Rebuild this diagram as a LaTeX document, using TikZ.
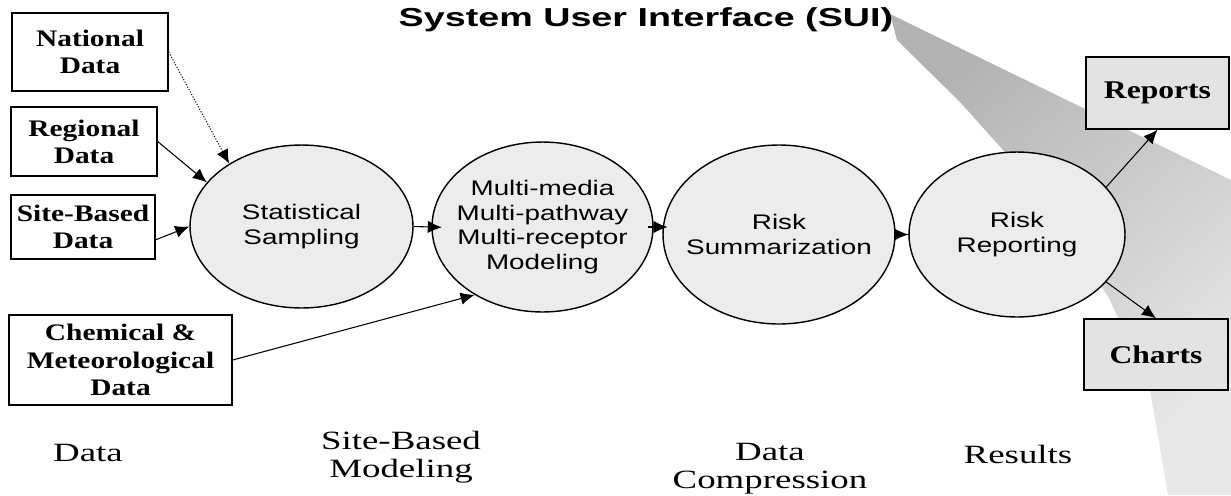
\documentclass[tikz,border=0pt]{standalone}
\usepackage{fontspec}
\setmainfont{Liberation Serif}
\newfontfamily\boxfont[FakeStretch=1.24]{Liberation Serif}
\newfontfamily\stagefont[FakeStretch=1.4]{Liberation Serif}
\newfontfamily\blobfont[FakeStretch=1.32]{Liberation Sans}
\newfontfamily\titlefont[FakeStretch=1.45]{Liberation Sans}
\usetikzlibrary{shapes.geometric,arrows.meta}

\begin{document}
\begin{tikzpicture}[x=0.02cm,y=-0.02cm,
  source/.style={draw,thick,fill=white,inner sep=0pt,align=center,font=\boxfont\bfseries\fontsize{13.5}{15.5}\selectfont},
  output/.style={source,fill=gray!22,font=\boxfont\bfseries\fontsize{14.5}{16}\selectfont},
  blob/.style={ellipse,draw,thick,fill=gray!15,inner xsep=-25pt,inner ysep=-10pt,align=center,font=\blobfont\fontsize{12}{14}\selectfont},
  stage/.style={align=center,font=\stagefont\fontsize{15}{16}\selectfont},
  link/.style={-{Latex[length=8pt,width=7pt]},semithick}]
\useasboundingbox (0,0) rectangle (1231,495);
  % Draw the beam from the title
  \shade[top color=gray!60,bottom color=gray!18,shading angle=39]
    (890,14) -- (1231,180) -- (1231,495) -- (1168,495) -- (1150,390) -- (1110,300)
    -- (1040,190) -- (1003,150) -- (960,102) -- (897,40) -- cycle;
  \node[font=\titlefont\bfseries\fontsize{14.8}{16}\selectfont,anchor=base] (title) at (646,26) {System User Interface (SUI)};
  % Draw data boxes
  \node[source,minimum width=3.12cm,minimum height=1.56cm] (national) at (90,52) {National\\Data};
  \node[source,minimum width=2.92cm,minimum height=1.38cm] (regional) at (84,141.5) {Regional\\Data};
  \node[source,minimum width=2.88cm,minimum height=1.28cm] (sitebased) at (83,227) {Site-Based\\Data};
  \node[source,minimum width=4.46cm,minimum height=1.8cm] (chemical) at (120.5,360) {Chemical \&\\Meteorological\\Data};
  % Draw process ellipses
  \node[blob,minimum width=4.46cm,minimum height=3.26cm] (sampling) at (301.5,226.5) {Statistical\\Sampling};
  \node[blob,minimum width=4.42cm,minimum height=3.4cm] (modeling) at (542.5,227) {Multi-media\\Multi-pathway\\Multi-receptor\\Modeling};
  \node[blob,minimum width=4.64cm,minimum height=3.58cm] (summary) at (779,234.5) {Risk\\Summarization};
  \node[blob,minimum width=4.32cm,minimum height=3.3cm] (reporting) at (1017,234.5) {Risk\\Reporting};
  % Draw result boxes
  \node[output,minimum width=2.86cm,minimum height=1.44cm] (reports) at (1157.5,93) {Reports};
  \node[output,minimum width=2.88cm,minimum height=1.42cm] (charts) at (1156,354.5) {Charts};
  % Draw arrows
  \draw[link,densely dotted] (national.east) -- (sampling.139);
  \draw[link] (regional.east) -- (sampling.155);
  \draw[link] (sitebased.-10) -- (sampling.west);
  \draw[link] (chemical.east) -- (modeling.225);
  \draw[link,shorten >=-6pt] (sampling.east) -- (modeling.west);
  \draw[link,shorten <=-3pt,shorten >=-3pt] (modeling.east) -- (modeling.east -| summary.west);
  \draw[link,shorten <=-8pt] (summary.east) -- (reporting.west);
  \draw[link] (reporting.28) -- (reports.south);
  \draw[link] (reporting.-28) -- (charts.north);
  % Draw stage labels
  \foreach \i/\x/\y/\txt in {1/88/453/Data,2/401/457/{Site-Based\\Modeling},3/770/469/{Data\\Compression},4/1018/454/Results}
    \node[stage] (stage\i) at (\x,\y) {\txt};
\end{tikzpicture}
\end{document}
